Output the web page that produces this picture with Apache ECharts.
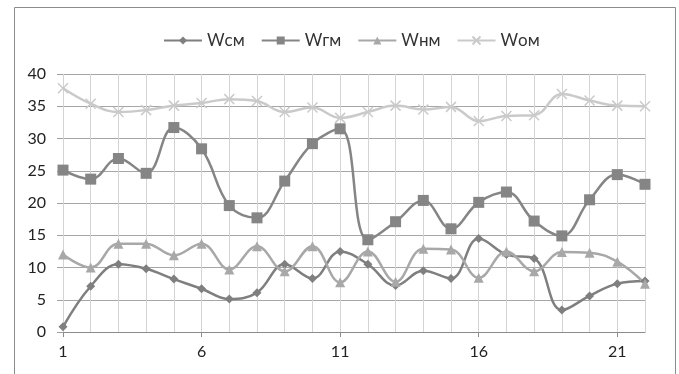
<!DOCTYPE html>
<html style="height: 100%">
<head>
<meta charset="utf-8">
<script src="https://cdn.jsdelivr.net/npm/echarts@6/dist/echarts.min.js"></script>
</head>
<body style="height: 100%; margin: 0; background: #fff">
<div id="container" style="width: 679px; height: 374px;"></div>
<script>
// данные
var days = ['1','2','3','4','5','6','7','8','9','10','11','12','13','14','15','16','17','18','19','20','21','22'];
var wcm = [0.8, 7.1, 10.5, 9.8, 8.2, 6.7, 5.1, 6.1, 10.5, 8.3, 12.5, 10.5, 7.2, 9.5, 8.3, 14.5, 12.0, 11.4, 3.4, 5.6, 7.5, 7.9];
var wgm = [25.1, 23.7, 26.9, 24.6, 31.7, 28.4, 19.6, 17.7, 23.4, 29.2, 31.5, 14.3, 17.1, 20.4, 16.0, 20.1, 21.7, 17.2, 14.9, 20.5, 24.4, 22.9];
var whm = [12.0, 10.0, 13.7, 13.7, 11.9, 13.7, 9.7, 13.3, 9.4, 13.3, 7.7, 12.5, 7.8, 12.9, 12.8, 8.4, 12.5, 9.4, 12.4, 12.3, 10.9, 7.5];
var wom = [37.8, 35.4, 34.1, 34.4, 35.1, 35.5, 36.1, 35.8, 34.1, 34.8, 33.2, 34.1, 35.1, 34.5, 34.9, 32.7, 33.5, 33.6, 36.9, 35.9, 35.1, 35.0];
var names = ['Wсм', 'Wгм', 'Wнм', 'Wом'];

var dom = document.getElementById("container");
var myChart = echarts.init(dom);
var font = 'Lato, "Open Sans", sans-serif';
var crossPath = 'path://M0,0L10,10M10,0L0,10';

function line(name, data, color, symbol, size, extra) {
	var s = {
		name : name,
		type : 'line',
		smooth : 0.4,
		data : data,
		symbol : symbol,
		symbolSize : size,
		showAllSymbol : true,
		lineStyle : { color : color, width : 2.5 },
		itemStyle : { color : color }
	};
	if (extra) {
		s.itemStyle = extra;
	}
	return s;
}

var option = {
	animation : false,
	textStyle : { fontFamily : font },
	graphic : [ {
		type : 'rect',
		shape : { x : 14.5, y : 7.5, width : 661, height : 380 },
		style : { fill : 'none', stroke : '#8c8c8c', lineWidth : 1 }
	} ],
	legend : {
		top : 27,
		left : 158,
		itemWidth : 38,
		itemHeight : 10,
		itemGap : 16,
		textStyle : { fontSize : 17, color : '#333', fontFamily : font },
		data : names
	},
	grid : {
		left : 63,
		right : 34,
		top : 74,
		bottom : 42
	},
	xAxis : {
		type : 'category',
		boundaryGap : false,
		data : days,
		axisLine : { lineStyle : { color : '#8c8c8c', width : 1 } },
		axisTick : { interval : 4, length : 5, lineStyle : { color : '#8c8c8c' } },
		axisLabel : { interval : 4, margin : 12, fontSize : 16, color : '#222', fontFamily : font },
		splitLine : { show : true, interval : 0, lineStyle : { color : '#d4d4d4', width : 1 } }
	},
	yAxis : {
		type : 'value',
		min : 0,
		max : 40,
		interval : 5,
		axisLine : { show : false },
		axisTick : { show : true, length : 6, lineStyle : { color : '#a0a0a0' } },
		axisLabel : { margin : 17, fontSize : 16, color : '#222', fontFamily : font },
		splitLine : { lineStyle : { color : '#a6a6a6', width : 1 } }
	},
	series : [
		line(names[0], wcm, '#7f7f7f', 'diamond', 9),
		line(names[1], wgm, '#858585', 'rect', 11),
		line(names[2], whm, '#a8a8a8', 'triangle', 10),
		line(names[3], wom, '#cacaca', crossPath, 10,
			{ color : 'none', borderColor : '#cacaca', borderWidth : 1.5 })
	]
};
if (option && typeof option === "object") {
	myChart.setOption(option, true);
}
</script>
</body>
</html>
